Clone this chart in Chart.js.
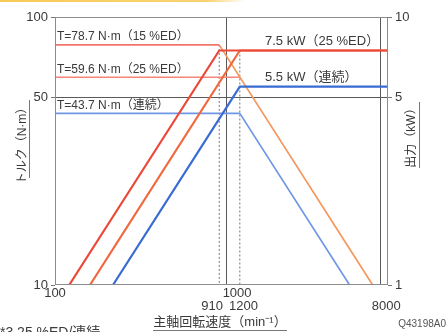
<!DOCTYPE html>
<html>
<head>
<meta charset="utf-8">
<script src="https://cdn.jsdelivr.net/npm/chart.js@4/dist/chart.umd.min.js"></script>
<style>
  html, body { margin: 0; padding: 0; background: #fff; }
  #wrap { width: 446px; height: 332px; }
</style>
</head>
<body>
<div id="wrap"><canvas id="chart" width="446" height="332"></canvas></div>
<script>
// tick values
const speedTicks = [100, 910, 1000, 1200, 8000];
const torqueTicks = [10, 50, 100];
const powerTicks = [1, 5, 10];

// torque curves (min-1 / N·m)
const torque15Speed = [100, 910];
const torque15 = [78.7, 78.7];
const torque25Speed = [100, 1200];
const torque25 = [59.6, 59.6];
const torqueFallSpeed = [910, 7160];
const torqueFall = [78.7, 10];
const torqueContSpeed = [100, 1200, 5250];
const torqueCont = [43.7, 43.7, 10];

// output curves (min-1 / kW)
const power15Speed = [121, 910, 8800];
const power15 = [1, 7.5, 7.5];
const power25Speed = [160, 1200, 8800];
const power25 = [1, 7.5, 7.5];
const powerContSpeed = [218, 1200, 8800];
const powerCont = [1, 5.5, 5.5];

// dotted guides at the corner speeds
const guide910Speed = [910, 910];
const guide910Torque = [78.7, 10];
const guide1200Speed = [1200, 1200];
const guide1200Power = [7.5, 1];

const FONT = '"Liberation Sans", "Noto Sans CJK JP", sans-serif';

function pts(xs, ys) {
    return xs.map((x, i) => ({ x: x, y: ys[i] }));
}

function line(data, color, width, axis, dash) {
    return {
        data: data,
        borderColor: color,
        borderWidth: width,
        borderDash: dash || [],
        yAxisID: axis,
        pointRadius: 0,
        fill: false,
        tension: 0,
        borderJoinStyle: 'round',
        borderCapStyle: 'butt'
    };
}

// spaces nudge the labels the way the original is set
const speedLabels = {
    100: '100',
    910: ['', '910    '],
    1000: '      1000',
    1200: ['', '  1200'],
    8000: ['', '   8000']
};

// texts, frame and the thin band at the top
const decorPlugin = {
    id: 'decor',
    beforeDraw(chart) {
        const ctx = chart.ctx;
        ctx.save();
        const g = ctx.createLinearGradient(0, 0, 245, 0);
        g.addColorStop(0, 'rgba(247,196,70,0.9)');
        g.addColorStop(0.85, 'rgba(247,200,80,0.8)');
        g.addColorStop(1, 'rgba(247,200,80,0)');
        ctx.fillStyle = g;
        ctx.fillRect(0, 0, 245, 2);
        ctx.restore();
    },
    afterDraw(chart) {
        const ctx = chart.ctx;
        const a = chart.chartArea;
        const ys = chart.scales.y;
        const ys2 = chart.scales.y2;
        ctx.save();

        ctx.strokeStyle = '#8c8c8c';
        ctx.lineWidth = 1;
        ctx.strokeRect(a.left + 0.5, a.top + 0.5, a.right - a.left - 1, a.bottom - a.top - 1);

        ctx.fillStyle = '#3a3a3a';
        ctx.font = '12px ' + FONT;
        ctx.textBaseline = 'middle';
        ctx.textAlign = 'left';
        ctx.fillText('T=78.7 N·m（15 %ED）', a.left + 2, ys.getPixelForValue(78.7) - 8);
        ctx.fillText('T=59.6 N·m（25 %ED）', a.left + 2, ys.getPixelForValue(59.6) - 8);
        ctx.fillText('T=43.7 N·m（連続）', a.left + 2, ys.getPixelForValue(43.7) - 8);
        ctx.font = '13px ' + FONT;
        ctx.fillText('7.5 kW（25 %ED）', 265, ys2.getPixelForValue(7.5) - 9);
        ctx.fillText('5.5 kW（連続）', 265, ys2.getPixelForValue(5.5) - 9);

        // axis titles
        ctx.font = '12px ' + FONT;
        ctx.textAlign = 'center';
        ctx.save();
        ctx.translate(23, 143);
        ctx.rotate(-Math.PI / 2);
        ctx.fillText('トルク（N·m）', 0, 0);
        ctx.restore();
        ctx.save();
        ctx.translate(412, 135);
        ctx.rotate(-Math.PI / 2);
        ctx.fillText('出力（kW）', 0, 0);
        ctx.restore();
        ctx.font = '13px ' + FONT;
        ctx.fillText('主軸回転速度（min⁻¹）', 220, 322);

        ctx.strokeStyle = '#777';
        ctx.beginPath();
        ctx.moveTo(29.5, 100); ctx.lineTo(29.5, 178);
        ctx.moveTo(419.5, 102); ctx.lineTo(419.5, 168);
        ctx.moveTo(153, 330.5); ctx.lineTo(287, 330.5);
        ctx.stroke();

        ctx.textAlign = 'left';
        ctx.textBaseline = 'top';
        ctx.font = '14px ' + FONT;
        ctx.fillText('*3 25 %ED/連続', 0, 326);
        ctx.textAlign = 'right';
        ctx.textBaseline = 'middle';
        ctx.font = '10px ' + FONT;
        ctx.fillStyle = '#555';
        ctx.fillText('Q43198A0', 446, 324);
        ctx.restore();
    }
};

const ctx = document.getElementById('chart').getContext('2d');
new Chart(ctx, {
    type: 'line',
    data: {
        datasets: [
            line(pts(power15Speed, power15), 'rgb(236,72,56)', 2.2, 'y2'),
            line(pts(power25Speed, power25), 'rgb(241,104,62)', 2.2, 'y2'),
            line(pts(powerContSpeed, powerCont), 'rgb(56,108,210)', 2.2, 'y2'),
            line(pts(torque15Speed, torque15), 'rgb(240,118,106)', 1.7, 'y'),
            line(pts(torque25Speed, torque25), 'rgb(246,134,122)', 1.7, 'y'),
            line(pts(torqueFallSpeed, torqueFall), 'rgb(245,150,92)', 1.7, 'y'),
            line(pts(torqueContSpeed, torqueCont), 'rgb(112,150,228)', 1.7, 'y'),
            line(pts(guide910Speed, guide910Torque), '#777', 1, 'y', [2, 2]),
            line(pts(guide1200Speed, guide1200Power), '#777', 1, 'y2', [2, 2])
        ]
    },
    options: {
        responsive: false,
        animation: false,
        events: [],
        layout: { padding: { top: 17, left: 0, right: 0, bottom: 0 } },
        plugins: {
            legend: { display: false },
            tooltip: { enabled: false }
        },
        scales: {
            x: {
                type: 'logarithmic',
                min: 100,
                max: 8800,
                afterBuildTicks: scale => { scale.ticks = speedTicks.map(v => ({ value: v })); },
                afterFit: scale => { scale.height = 47; },
                border: { display: false },
                grid: {
                    drawTicks: false,
                    color: c => (c.tick && (c.tick.value === 1000 || c.tick.value === 8000)) ? '#5a5a5a' : 'rgba(0,0,0,0)',
                    lineWidth: 1
                },
                ticks: {
                    autoSkip: false,
                    maxRotation: 0,
                    padding: 2,
                    color: '#3a3a3a',
                    font: { family: FONT, size: 13, lineHeight: 1.0 },
                    callback: v => speedLabels[v] || ''
                }
            },
            y: {
                type: 'logarithmic',
                position: 'left',
                min: 10,
                max: 100,
                afterBuildTicks: scale => { scale.ticks = torqueTicks.map(v => ({ value: v })); },
                afterFit: scale => { scale.width = 55; },
                border: { display: false },
                grid: {
                    color: c => (c.tick && c.tick.value === 50) ? '#5a5a5a' : 'rgba(0,0,0,0)',
                    tickColor: '#777',
                    tickLength: 4
                },
                ticks: {
                    padding: 3,
                    color: '#3a3a3a',
                    font: { family: FONT, size: 13 },
                    callback: v => String(v)
                }
            },
            y2: {
                type: 'logarithmic',
                position: 'right',
                min: 1,
                max: 10,
                afterBuildTicks: scale => { scale.ticks = powerTicks.map(v => ({ value: v })); },
                afterFit: scale => { scale.width = 58; },
                border: { display: false },
                grid: {
                    drawOnChartArea: false,
                    tickColor: '#777',
                    tickLength: 4
                },
                ticks: {
                    padding: 3,
                    color: '#3a3a3a',
                    font: { family: FONT, size: 13 },
                    callback: v => String(v)
                }
            }
        }
    },
    plugins: [decorPlugin]
});
</script>
</body>
</html>
